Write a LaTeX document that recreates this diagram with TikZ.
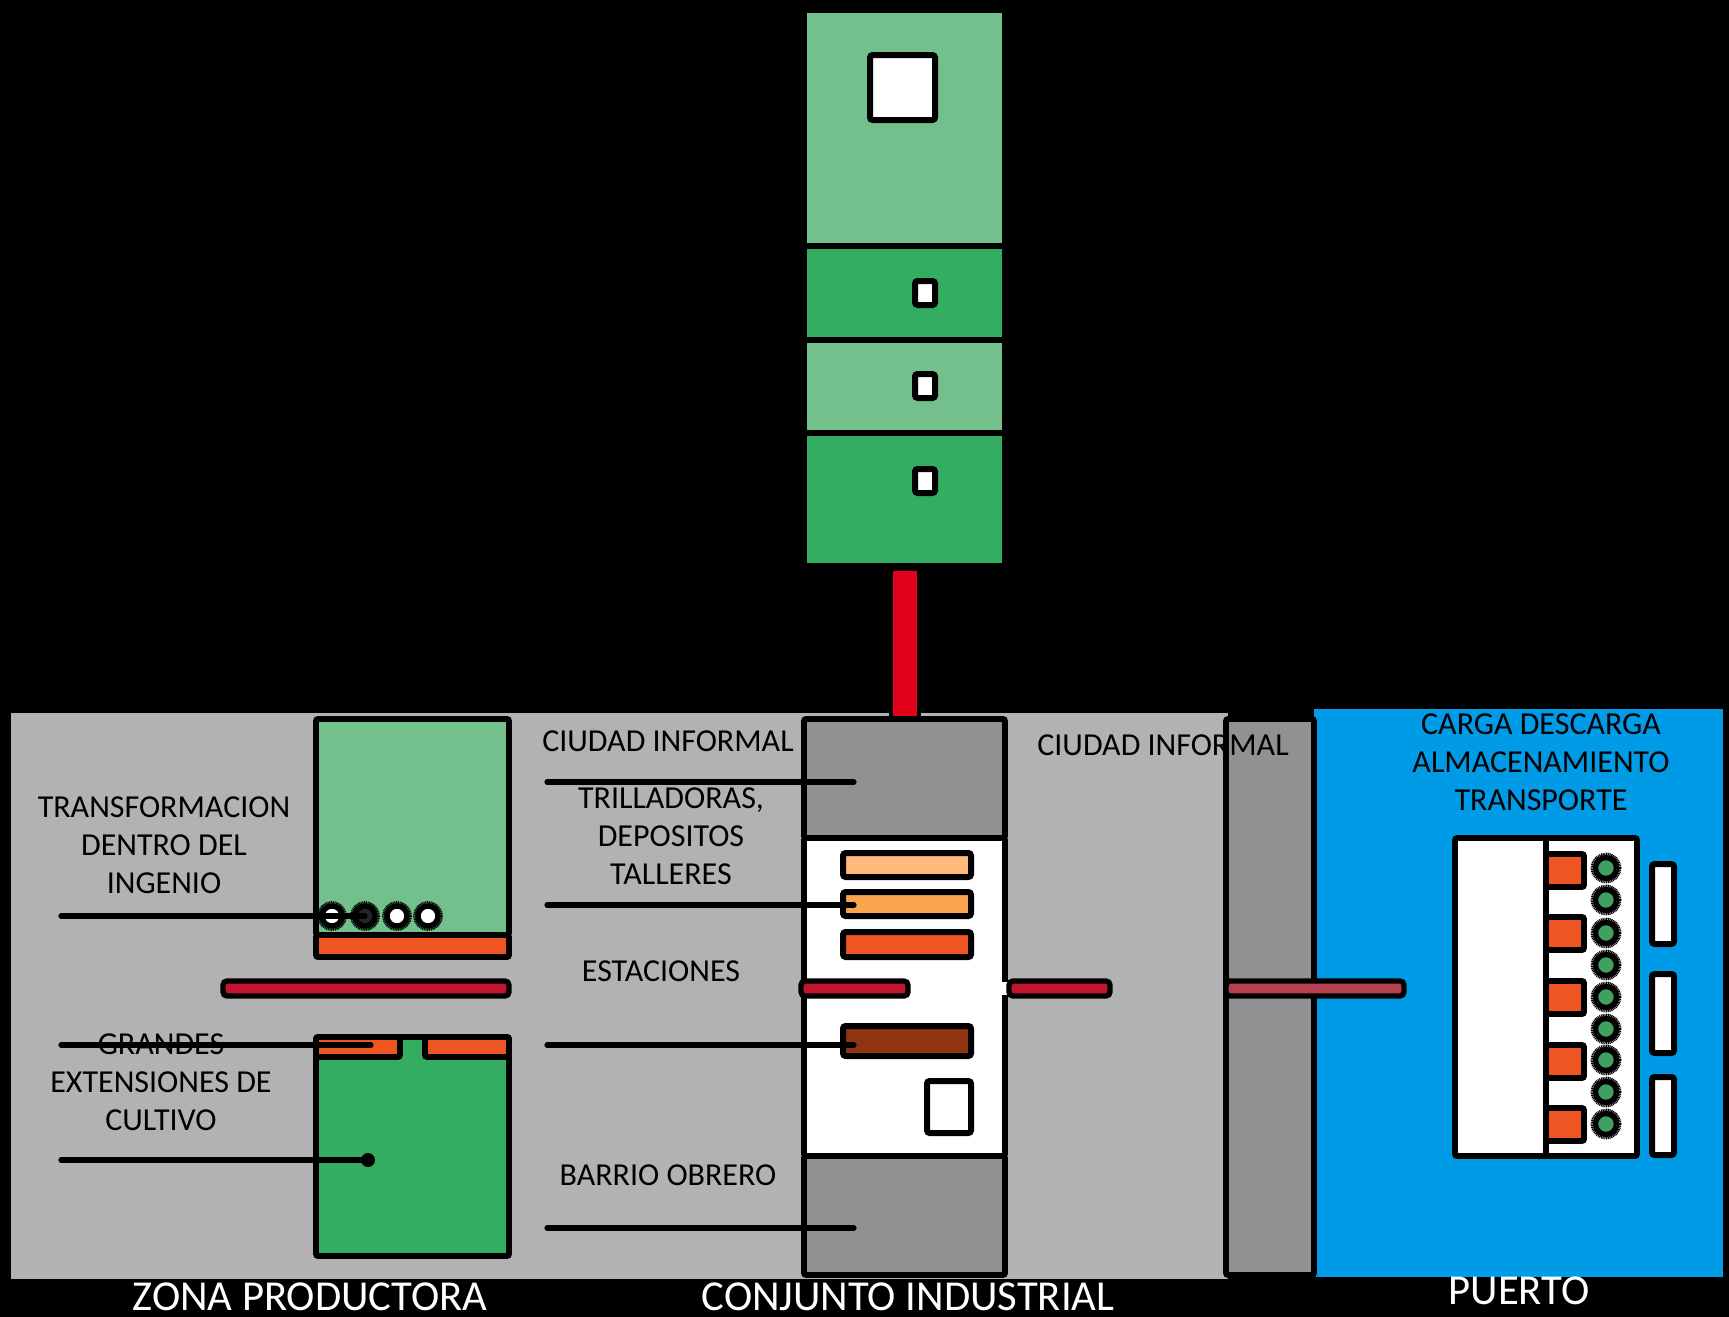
\documentclass[tikz,border=0pt]{standalone}
\usepackage{fontspec}
\setmainfont{Carlito}
\usepackage{xcolor}
\definecolor{groundgrey}{HTML}{B2B2B2}
\definecolor{darkgrey}{HTML}{919191}
\definecolor{softgreen}{HTML}{74C08C}
\definecolor{deepgreen}{HTML}{34AD62}
\definecolor{burnt}{HTML}{EE5522}
\definecolor{peach}{HTML}{FFB97A}
\definecolor{amber}{HTML}{FBA450}
\definecolor{brownbar}{HTML}{8F3512}
\definecolor{railred}{HTML}{C0142F}
\definecolor{roadred}{HTML}{E2001A}
\definecolor{dockred}{HTML}{B5404F}
\definecolor{seablue}{HTML}{009BE6}
\definecolor{portgreen}{HTML}{40A060}

\begin{document}
\begin{tikzpicture}[
  x=0.75pt,y=-0.75pt,
  block/.style={draw=black,line width=4.3pt,rounded corners=1.5pt},
  rail/.style={draw=black,line width=4pt,rounded corners=3pt},
  thinbox/.style={draw=black,line width=4.5pt,rounded corners=2pt,fill=white},
  lead/.style={draw=black,line width=3.9pt,line cap=round},
  tag/.style={align=center,font=\fontsize{24}{28.5}\selectfont,inner sep=0pt,text=black},
  zone/.style={align=center,font=\fontsize{32}{36}\selectfont,inner sep=0pt,text=white},
  gearring/.style={draw=black,line width=2pt,dash pattern=on 0.8pt off 0.5pt},
  gearbody/.style={draw=black,line width=4pt}
]
% ground
\useasboundingbox (0,0) rectangle (1729,1317);
\fill[black] (0,0) rectangle (1729,1317);
\fill[groundgrey] (11,713) rectangle (1228,1279);
\fill[seablue] (1314,709) rectangle (1723,1277);

% tower on top
\draw[block,fill=softgreen] (804,10) rectangle (1005,246);
\draw[block,fill=deepgreen] (804,246) rectangle (1005,340);
\draw[block,fill=softgreen] (804,340) rectangle (1005,433);
\draw[block,fill=deepgreen] (804,433) rectangle (1005,566);
\draw[thinbox] (870,55) rectangle (935,120);
\foreach \ty in {293,386,481}
  \draw[thinbox] (915,\ty-12) rectangle (935,\ty+12);
\draw[black,fill=roadred,line width=3pt] (891,569) rectangle (919,718);

% productive zone
\draw[block,fill=softgreen] (316,719) rectangle (509,935);
\draw[block,fill=burnt] (316,935) rectangle (509,957);
\draw[block,fill=deepgreen] (316,1037) rectangle (509,1256);
\draw[block,fill=burnt] (316,1037) rectangle (400,1057);
\draw[block,fill=burnt] (425,1037) rectangle (509,1057);
\draw[rail,fill=railred] (223,981) rectangle (509,996);
\foreach \cx/\tone in {332/white,365/black!85,397/white,428/white}{
  \draw[gearring] (\cx,916) circle (13.5);
  \draw[gearbody,fill=\tone] (\cx,916) circle (10);
}

% industrial group
\draw[block,fill=darkgrey] (804,719) rectangle (1005,838);
\draw[block,fill=white] (804,838) rectangle (1005,1156);
\draw[block,fill=darkgrey] (804,1156) rectangle (1005,1275);
\draw[thinbox,fill=peach] (843,853) rectangle (971,877);
\draw[thinbox,fill=amber] (843,892) rectangle (971,916);
\draw[thinbox,fill=burnt] (843,932) rectangle (971,957);
\draw[thinbox,fill=brownbar] (843,1026) rectangle (971,1056);
\draw[thinbox] (927,1081) rectangle (971,1133);
\draw[rail,fill=railred] (801,981) rectangle (908,996);
\fill[white] (1002,982) rectangle (1009,995);
\draw[rail,fill=railred] (1009,981) rectangle (1110,996);

% port
\draw[block,fill=darkgrey] (1226,719) rectangle (1314,1275);
\draw[rail,fill=dockred] (1226,981) rectangle (1404,996);
\draw[block,fill=white] (1455,838) rectangle (1637,1156);
\draw[black,line width=4.3pt] (1546,838) -- (1546,1156);
\foreach \oy in {854,917,981,1045,1108}
  \draw[block,fill=burnt] (1546,\oy) rectangle (1584,\oy+33);
\foreach \cy in {868,900,933,965,997,1029,1060,1092,1124}{
  \draw[gearring] (1606,\cy) circle (14);
  \draw[gearbody,fill=portgreen] (1606,\cy) circle (10.5);
}
\draw[thinbox] (1652,864) rectangle (1674,944);
\draw[thinbox] (1652,974) rectangle (1674,1053);
\draw[thinbox] (1652,1077) rectangle (1674,1155);

% leader ends
\coordinate (ingenioa) at (61,916);
\coordinate (ingeniob) at (365,916);
\coordinate (pateoa) at (61,1045);
\coordinate (pateob) at (371,1045);
\coordinate (cultivoa) at (61,1160);
\coordinate (cultivob) at (368,1160);
\coordinate (informala) at (547,782);
\coordinate (informalb) at (854,782);
\coordinate (talleresa) at (547,905);
\coordinate (talleresb) at (854,905);
\coordinate (estaciona) at (547,1045);
\coordinate (estacionb) at (854,1045);
\coordinate (barrioa) at (547,1228);
\coordinate (barriob) at (854,1228);
\draw[lead] (ingenioa)--(ingeniob);
\draw[lead] (pateoa)--(pateob);
\draw[lead] (cultivoa)--(cultivob);
\fill[black] (cultivob) circle (7);
\draw[lead] (informala)--(informalb);
\draw[lead] (talleresa)--(talleresb);
\draw[lead] (estaciona)--(estacionb);
\draw[lead] (barrioa)--(barriob);

% labels
\node[tag] (transforma) at (164,845) {TRANSFORMACION\\DENTRO DEL\\INGENIO};
\node[tag] (grandes) at (161,1082) {GRANDES\\EXTENSIONES DE\\CULTIVO};
\node[tag] (ciudadleft) at (668,741) {CIUDAD INFORMAL};
\node[tag] (trilladoras) at (671,836) {TRILLADORAS,\\DEPOSITOS\\TALLERES};
\node[tag] (estaciones) at (661,971) {ESTACIONES};
\node[tag] (barrio) at (668,1175) {BARRIO OBRERO};
\node[tag] (ciudadright) at (1163,745) {CIUDAD INFORMAL};
\node[tag] (carga) at (1541,762) {CARGA DESCARGA\\ALMACENAMIENTO\\TRANSPORTE};
\node[zone] (productora) at (310,1297) {ZONA PRODUCTORA};
\node[zone] (industrial) at (908,1297) {CONJUNTO INDUSTRIAL};
\node[zone] (puerto) at (1519,1291) {PUERTO};
\end{tikzpicture}
\end{document}
